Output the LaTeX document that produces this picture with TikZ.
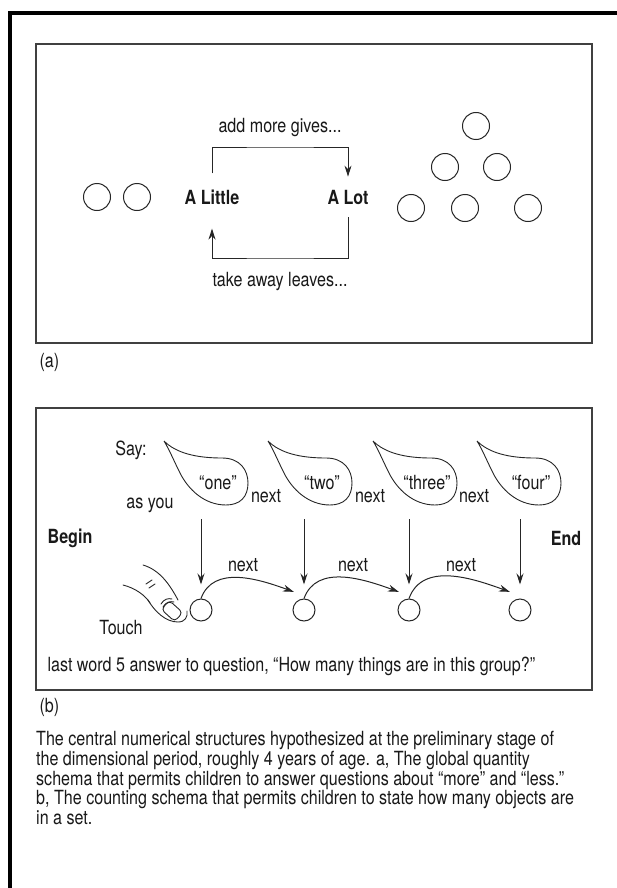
\documentclass[tikz,border=0pt]{standalone}
\usepackage{fontspec}
\setmainfont{TeX Gyre Heros}[FakeStretch=0.825]
\usetikzlibrary{positioning, arrows.meta, calc}

\newcommand{\mainsize}{\fontsize{19.5}{19.8}\selectfont}
\tikzstyle{arrow}=[-{Stealth[length=11pt, width=7pt]}, line width=1pt, draw=black!85]
\tikzstyle{dot}=[circle, draw=black!85, line width=1pt, minimum size=27pt, inner sep=0pt]
\tikzstyle{smalldot}=[dot, minimum size=22pt]
\tikzstyle{panel}=[draw=black!75, line width=1.2pt]
\tikzstyle{strong}=[font=\mainsize\bfseries, inner sep=0pt]
\tikzstyle{bubble}=[draw=black!85, line width=0.9pt]
\tikzstyle{finger}=[draw=black!85, line width=0.9pt, line cap=round]

\begin{document}
\begin{tikzpicture}[x=1pt, y=1pt, every node/.style={font=\mainsize, text=black!90}]
  \useasboundingbox (0,0) rectangle (617,-888);
  \draw[line width=4pt] (10,-888) -- (10,-13) -- (617,-13);

  % (a) more / less
  \draw[panel] (36,-44) rectangle (592,-343);
  \node[anchor=west] (tagA) at (36,-362) {(a)};
  \node[strong] (little) at (212,-197) {A Little};
  \node[strong] (lot) at (348,-197) {A Lot};
  \coordinate (addTop) at (280,-147);
  \coordinate (takeBot) at (280,-258);
  \node (addTxt) at (280,-128) {add more gives...};
  \node (takeTxt) at (280,-282) {take away leaves...};
  \draw[arrow] ([yshift=16]little.north) |- (addTop) -| ([yshift=13]lot.north);
  \draw[arrow] ([yshift=-13]lot.south) |- (takeBot) -| ([yshift=-24]little.south);
  \foreach \n/\x/\y in {few1/97/197, few2/137/197,
      many1/476/126, many2/445/167, many3/497/167,
      many4/411/208, many5/465/208, many6/528/208}
    \node[dot] (\n) at (\x,-\y) {};

  % (b) counting
  \draw[panel] (36,-408) rectangle (592,-690);
  \node[anchor=west] (tagB) at (36,-707) {(b)};
  \node (say) at (131,-450) {Say:};
  \node (asyou) at (150,-505) {as you};
  \node[strong] (begin) at (70,-538) {Begin};
  \node[strong] (end) at (566,-538) {End};
  \node (touch) at (121,-628) {Touch};

  \foreach \i/\x/\w in {1/218/one, 2/322/two, 3/427/three, 4/531/four} {
    \node (word\i) at (\x,-483) {“\w”};
    \begin{scope}[shift={(word\i.center)}]
      \draw[bubble] (-54,42) .. controls (-42,30) and (-22,25) .. (4,25)
        .. controls (22,25) and (30,13) .. (30,0)
        .. controls (30,-14) and (22,-22) .. (8,-22)
        .. controls (-14,-22) and (-30,-6) .. (-38,10)
        .. controls (-44,22) and (-49,34) .. (-54,42);
    \end{scope}
  }
  \foreach \i/\x in {1/266, 2/370, 3/474}
    \node (say\i) at (\x,-496) {next};

  \foreach \i/\x in {1/201, 2/304, 3/409, 4/520} {
    \node[smalldot] (c\i) at (\x,-610) {};
    \coordinate (s\i) at (\x,-519);
    \draw[arrow] (s\i) -- ([yshift=14]c\i.north);
  }
  \foreach \a/\b/\x in {1/2/243, 2/3/353, 3/4/461} {
    \draw[arrow] (c\a.north) to[out=70, in=160] ([shift={(-2,10)}]c\b.north west);
    \node (touch\a) at (\x,-565) {next};
  }

  % finger
  \draw[finger] (143,-565) .. controls (160,-570) and (170,-585) .. (178,-600);
  \draw[finger] (123,-585) .. controls (135,-588) and (145,-595) .. (150,-603);
  \draw[finger] (148,-600) .. controls (155,-612) and (166,-622) .. (178,-622)
    .. controls (185,-622) and (188,-617) .. (187,-611);
  \draw[finger, rounded corners=4pt, rotate around={-42:(172,-611)}]
    (163,-605) rectangle (181,-617);
  \draw[finger] (146,-584) -- (152,-580);
  \draw[finger] (149,-588) -- (155,-584);
  \draw[finger] (161,-604) .. controls (164,-599) and (168,-598) .. (172,-599);
  \draw[finger] (163,-607) .. controls (166,-602) and (170,-601) .. (174,-602);

  \node[anchor=west] (lastword) at (44,-666)
    {last word 5 answer to question, “How many things are in this group?”};

  \node[anchor=north west, align=left, inner sep=0pt] (caption) at (36,-731)
    {The central numerical structures hypothesized at the preliminary stage of\\
     the dimensional period, roughly 4 years of age. a, The global quantity\\
     schema that permits children to answer questions about “more” and “less.”\\
     b, The counting schema that permits children to state how many objects are\\
     in a set.};
\end{tikzpicture}
\end{document}
